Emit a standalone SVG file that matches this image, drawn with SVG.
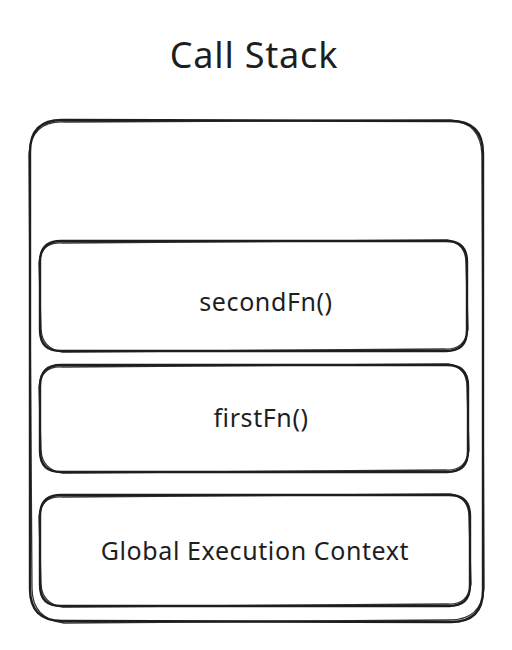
<svg xmlns="http://www.w3.org/2000/svg" width="512" height="650" viewBox="0 0 512 650">
<style>
.s{fill:none;stroke:#1e1e1e;stroke-width:2.4;stroke-linecap:round;stroke-linejoin:round}
.s2{fill:none;stroke:#1e1e1e;stroke-width:1.3;stroke-linecap:round;opacity:0.9}
text{font-family:"Noto Sans","Open Sans",sans-serif;fill:#1e1e1e;text-anchor:middle}
.t{font-size:36px;letter-spacing:0.8px}
.l{font-size:25px;letter-spacing:0.6px}
</style>
<rect width="512" height="650" fill="#ffffff"/>
<g id="title"><text class="t" x="254" y="68">Call Stack</text></g>
<g id="call-stack">
<path class="s" d="M62 120 L451 121 Q483 121 483 153 L483 590 Q483 622 451 622 L62 621 Q30 621 30 589 L30 152 Q30 120 62 120 Z"/>
<path class="s2" d="M64 122 L450 120 Q481 122 482 155 L484 588 Q482 620 449 620 L64 623 Q32 619 32 588 L29 154 Q31 121 64 122"/>
</g>
<g id="secondFn">
<path class="s" d="M61 241 L446 241 Q467 241 467 262 L467 330 Q467 351 446 351 L61 351 Q40 351 40 330 L40 262 Q40 241 61 241 Z"/>
<path class="s2" d="M62 243 L447 240 Q466 243 466 263 L468 329 Q465 350 445 349 L63 352 Q42 349 41 329 L39 263 Q41 242 62 243"/>
<text class="l" x="266" y="311">secondFn()</text>
</g>
<g id="firstFn">
<path class="s" d="M61 365 L447 365 Q468 365 468 386 L468 451 Q468 472 447 472 L61 472 Q40 472 40 451 L40 386 Q40 365 61 365 Z"/>
<path class="s2" d="M62 367 L448 364 Q467 367 467 387 L469 450 Q466 471 446 470 L63 473 Q42 470 41 450 L39 387 Q41 366 62 367"/>
<text class="l" x="261" y="427">firstFn()</text>
</g>
<g id="global">
<path class="s" d="M61 495 L449 495 Q470 495 470 516 L470 585 Q470 606 449 606 L61 606 Q40 606 40 585 L40 516 Q40 495 61 495 Z"/>
<path class="s2" d="M62 497 L450 494 Q469 497 469 517 L471 584 Q468 605 448 604 L63 607 Q42 604 41 584 L39 517 Q41 496 62 497"/>
<text class="l" x="255" y="560">Global Execution Context</text>
</g>
<g id="connectors"></g>
</svg>
